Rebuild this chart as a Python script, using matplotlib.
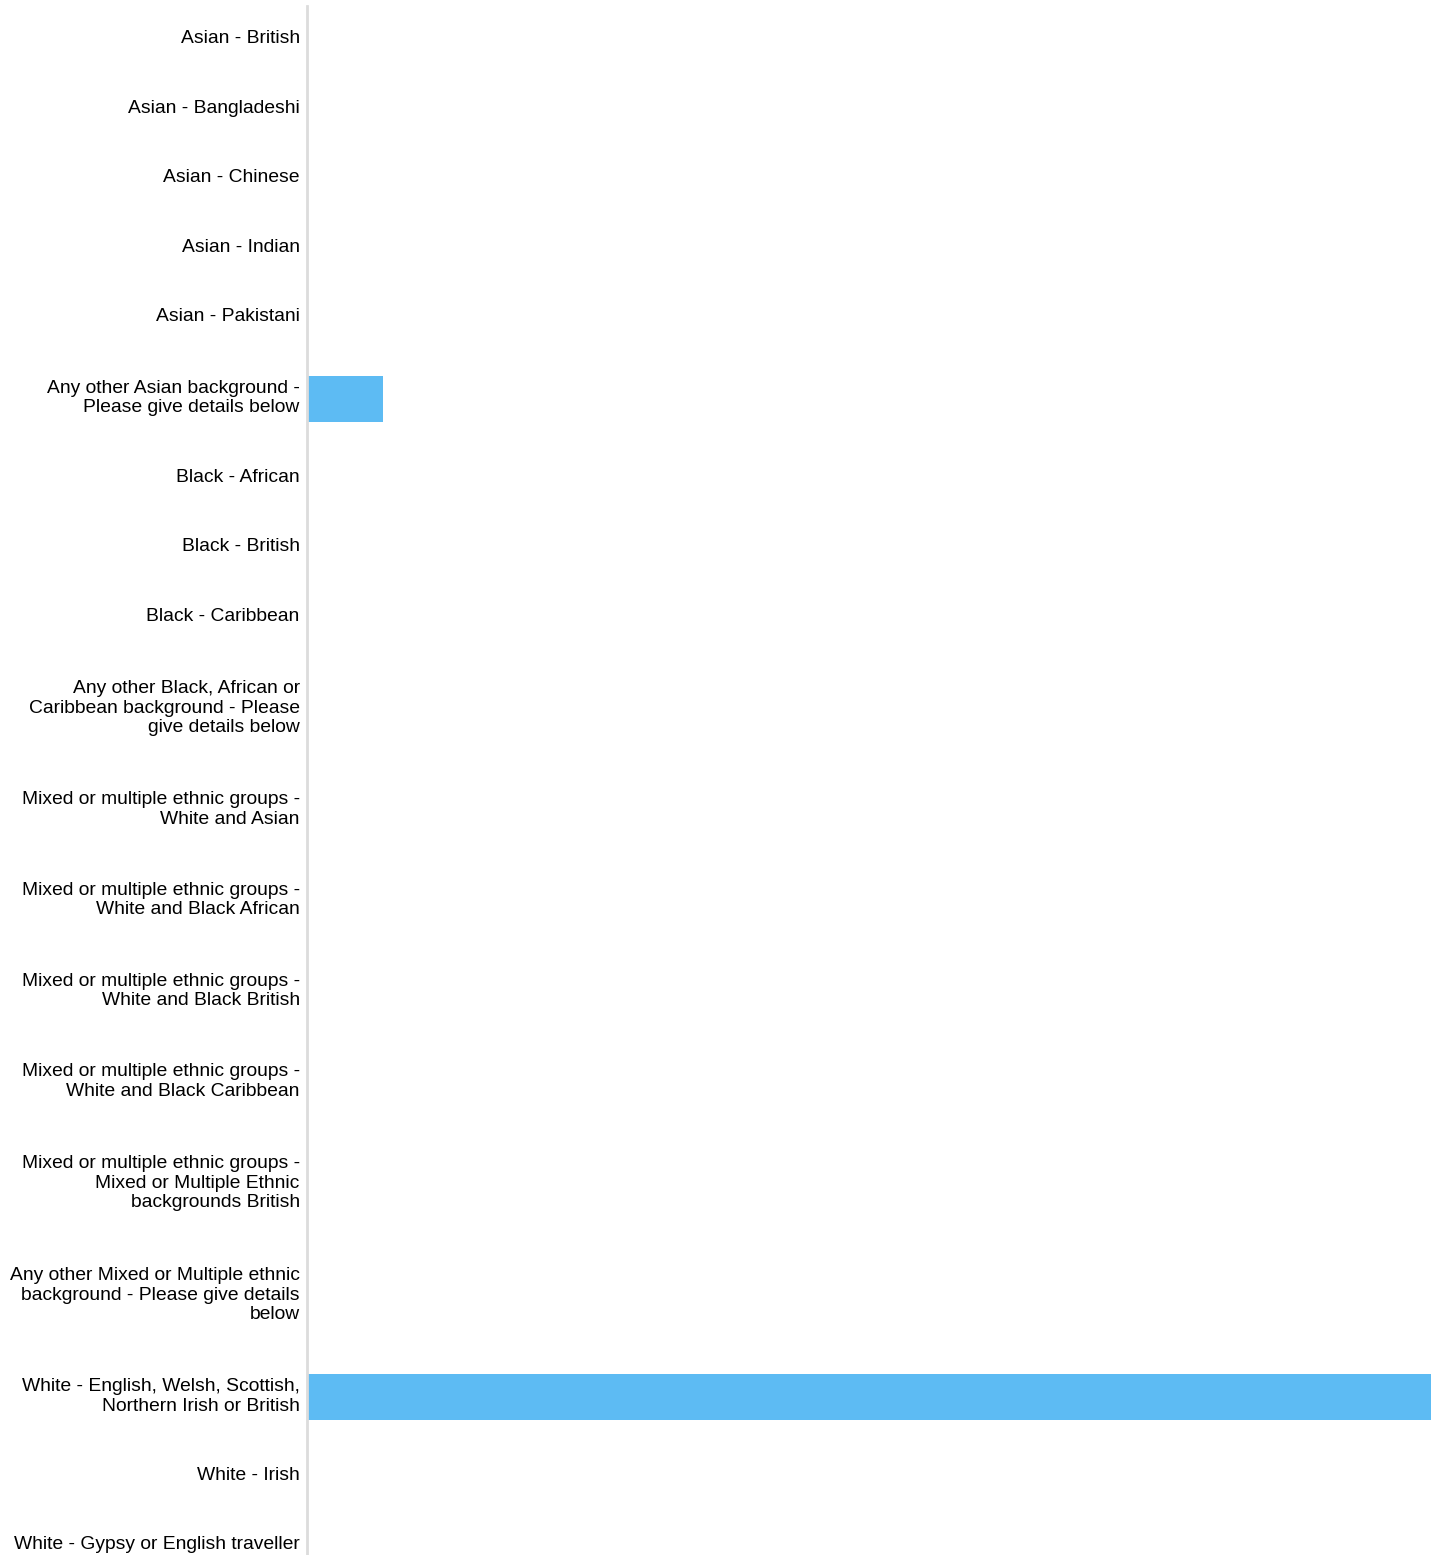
import matplotlib
matplotlib.use("Agg")
import matplotlib.pyplot as plt
import numpy as np

plt.rcParams['font.family'] = ['Liberation Sans', 'DejaVu Sans']
plt.rcParams['font.size'] = 13.9
plt.rcParams['ytick.labelsize'] = 13.9

categories = [
    "Asian - British",
    "Asian - Bangladeshi",
    "Asian - Chinese",
    "Asian - Indian",
    "Asian - Pakistani",
    "Any other Asian background -\nPlease give details below",
    "Black - African",
    "Black - British",
    "Black - Caribbean",
    "Any other Black, African or\nCaribbean background - Please\ngive details below",
    "Mixed or multiple ethnic groups -\nWhite and Asian",
    "Mixed or multiple ethnic groups -\nWhite and Black African",
    "Mixed or multiple ethnic groups -\nWhite and Black British",
    "Mixed or multiple ethnic groups -\nWhite and Black Caribbean",
    "Mixed or multiple ethnic groups -\nMixed or Multiple Ethnic\nbackgrounds British",
    "Any other Mixed or Multiple ethnic\nbackground - Please give details\nbelow",
    "White - English, Welsh, Scottish,\nNorthern Irish or British",
    "White - Irish",
    "White - Gypsy or English traveller",
]
values = [0, 0, 0, 0, 0, 1, 0, 0, 0, 0, 0, 0, 0, 0, 0, 0, 15, 0, 0]

W, H = 1437, 1555
dpi = 100
fig = plt.figure(figsize=(W / dpi, H / dpi), dpi=dpi)
ax_left, ax_right, ax_top = 308, 1431, 6
ax = fig.add_axes([ax_left / W, 0, (ax_right - ax_left) / W, (H - ax_top) / H])

# row heights grow with number of label lines (pixel-based layout units)
n_lines = np.array([c.count("\n") + 1 for c in categories])
row_h = 48.25 + 21.25 * n_lines
tops = np.concatenate([[0], np.cumsum(row_h)[:-1]])
centers = tops + row_h / 2

ax.barh(centers, values, height=46, color="#5dbbf3", align="center")
ax.set_ylim(H - ax_top, 0)
ax.set_xlim(0, max(values))

ax.set_yticks(centers - 4)
ax.set_yticklabels(categories, linespacing=1.15)
ax.tick_params(axis="y", length=0, pad=5, labelsize=13.9)
for lab in ax.get_yticklabels():
    lab.set_fontsize(13.9)
    lab.set_linespacing(1.15)
    lab.set_horizontalalignment("right")
ax.set_xticks([])
for s in ["top", "right", "bottom"]:
    ax.spines[s].set_visible(False)
ax.spines["left"].set_color("#dcdcdc")
ax.spines["left"].set_linewidth(2)
ax.spines["left"].set_position(("outward", 1))

fig.savefig("out.png", dpi=dpi)
